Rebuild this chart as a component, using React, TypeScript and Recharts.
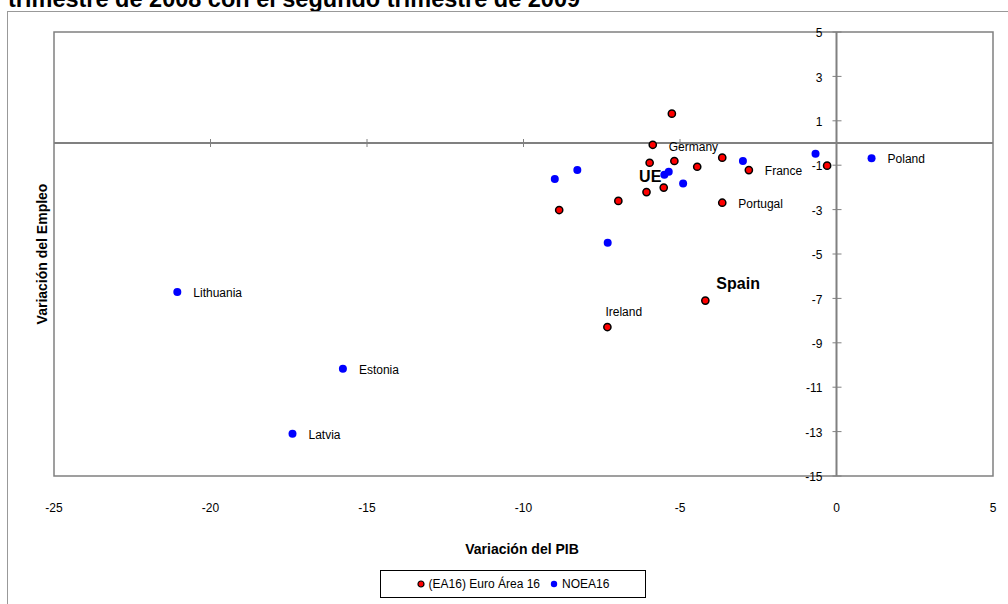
import React from "react";
import {
  ScatterChart,
  Scatter,
  XAxis,
  YAxis,
  ReferenceLine,
  ReferenceArea,
  ReferenceDot,
} from "recharts";

// ---- Data ----
const euroX = [-5.87, -5.97, -5.18, -4.45, -3.65, -2.8, -6.07, -5.52, -6.97, -8.86, -3.65, -5.26, -0.3, -4.19, -7.32];
const euroY = [-0.08, -0.89, -0.81, -1.07, -0.66, -1.22, -2.21, -2.01, -2.61, -3.02, -2.69, 1.32, -1.02, -7.1, -8.29];
const euroNames = ["Germany", "", "", "", "", "France", "", "", "", "", "Portugal", "", "", "Spain", "Ireland"];

const nonX = [-8.28, -9.0, -5.36, -5.5, -4.9, -2.99, -7.31, -0.67, 1.12, -21.06, -15.77, -17.38];
const nonY = [-1.22, -1.62, -1.29, -1.43, -1.82, -0.81, -4.49, -0.48, -0.69, -6.71, -10.17, -13.1];
const nonNames = ["", "", "", "UE", "", "", "", "", "Poland", "Lithuania", "Estonia", "Latvia"];

const seriesNames = ["(EA16) Euro Área 16", "NOEA16"];
const xTicks = [-25, -20, -15, -10, -5, 0, 5];
const xInnerTicks = [-20, -15, -10, -5];
const yTicks = [5, 3, 1, -1, -3, -5, -7, -9, -11, -13, -15];

const title = "trimestre de 2008 con el segundo trimestre de 2009";
const xTitle = "Variación del PIB";
const yTitle = "Variación del Empleo";

const euroData = euroX.map((x, i) => ({ x, y: euroY[i], name: euroNames[i] }));
const nonData = nonX.map((x, i) => ({ x, y: nonY[i], name: nonNames[i] }));

// ---- Label styling (placement relative to the point) ----
type LS = { dx: number; dy: number; anchor?: "start" | "end"; bold?: boolean };
const labelStyle: Record<string, LS> = {
  Germany: { dx: 16, dy: 6 },
  Ireland: { dx: -2, dy: -11 },
  Spain: { dx: 11, dy: -12, bold: true },
  UE: { dx: -3, dy: 7, anchor: "end", bold: true },
};
const defaultLS: LS = { dx: 16, dy: 5 };

const FONT = 'Arial, "Liberation Sans", sans-serif';

function renderLabel(cx: number, cy: number, name: string) {
  if (!name) return null;
  const s = labelStyle[name] || defaultLS;
  return (
    <text
      x={cx + s.dx}
      y={cy + s.dy}
      textAnchor={s.anchor || "start"}
      fontSize={s.bold ? 16 : 12}
      fontWeight={s.bold ? "bold" : "normal"}
      fontFamily={FONT}
      fill="#000"
    >
      {name}
    </text>
  );
}

const EuroShape = (p: any) => (
  <g>
    <circle cx={p.cx} cy={p.cy} r={3.6} fill="#FF0000" stroke="#000" strokeWidth={1.5} />
    {renderLabel(p.cx, p.cy, p.payload?.name)}
  </g>
);

const NonShape = (p: any) => (
  <g>
    <circle cx={p.cx} cy={p.cy} r={4} fill="#0000FF" />
    {renderLabel(p.cx, p.cy, p.payload?.name)}
  </g>
);

export default function App() {
  return (
    <div
      style={{
        position: "absolute",
        left: 0,
        top: 0,
        width: 1008,
        height: 604,
        overflow: "hidden",
        background: "#fff",
        fontFamily: FONT,
      }}
    >
      {/* title (cut at the top, as in the original) */}
      <div
        style={{
          position: "absolute",
          left: 8,
          top: -11.8,
          fontSize: 23.5,
          lineHeight: "23.5px",
          fontWeight: "bold",
          whiteSpace: "nowrap",
          color: "#000",
        }}
      >
        {title}
      </div>
      {/* chart area frame */}
      <div
        style={{
          position: "absolute",
          left: 7,
          top: 11,
          width: 1100,
          height: 700,
          borderLeft: "1px solid #999",
          borderTop: "1px solid #999",
        }}
      />
      <div style={{ position: "absolute", left: 0, top: 0 }}>
        <ScatterChart
          width={1008}
          height={604}
          margin={{ top: 32, right: 15, left: 54, bottom: 88 }}
        >
          <XAxis
            type="number"
            dataKey="x"
            domain={[-25, 5]}
            ticks={xTicks}
            interval={0}
            axisLine={false}
            tickLine={false}
            tickMargin={21}
            height={40}
            tick={{ fontSize: 12, fill: "#000", fontFamily: FONT }}
            allowDataOverflow
          />
          <YAxis type="number" dataKey="y" domain={[-15, 5]} hide allowDataOverflow />
          <ReferenceArea
            x1={-25}
            x2={5}
            y1={-15}
            y2={5}
            fill="none"
            fillOpacity={0}
            stroke="#808080"
            strokeWidth={1.5}
          />
          <ReferenceLine x={0} stroke="#808080" strokeWidth={2} />
          <ReferenceLine y={0} stroke="#808080" strokeWidth={2} />
          {yTicks.map((v) => (
            <ReferenceDot
              key={"yt" + v}
              x={0}
              y={v}
              r={0}
              shape={(p: any) => (
                <g>
                  <line x1={p.cx - 4} x2={p.cx + 5} y1={p.cy} y2={p.cy} stroke="#808080" strokeWidth={1} />
                  <text
                    x={p.cx - 14}
                    y={p.cy + 1}
                    dy="0.35em"
                    textAnchor="end"
                    fontSize={12}
                    fontFamily={FONT}
                    fill="#000"
                  >
                    {v}
                  </text>
                </g>
              )}
            />
          ))}
          {xInnerTicks.map((v) => (
            <ReferenceDot
              key={"xt" + v}
              x={v}
              y={0}
              r={0}
              shape={(p: any) => (
                <line x1={p.cx} x2={p.cx} y1={p.cy - 4} y2={p.cy + 4} stroke="#808080" strokeWidth={1} />
              )}
            />
          ))}
          <Scatter
            name={seriesNames[0]}
            data={euroData}
            fill="#FF0000"
            shape={EuroShape}
            isAnimationActive={false}
          />
          <Scatter
            name={seriesNames[1]}
            data={nonData}
            fill="#0000FF"
            shape={NonShape}
            isAnimationActive={false}
          />
        </ScatterChart>
      </div>
      {/* axis titles */}
      <div
        style={{
          position: "absolute",
          left: 522,
          top: 549,
          transform: "translate(-50%, -50%)",
          fontSize: 14,
          fontWeight: "bold",
          whiteSpace: "nowrap",
        }}
      >
        {xTitle}
      </div>
      <div
        style={{
          position: "absolute",
          left: 41.5,
          top: 254,
          transform: "translate(-50%, -50%) rotate(-90deg)",
          fontSize: 14,
          fontWeight: "bold",
          whiteSpace: "nowrap",
        }}
      >
        {yTitle}
      </div>
      {/* legend */}
      <div
        style={{
          position: "absolute",
          left: 380,
          top: 570,
          width: 264,
          height: 26,
          border: "1px solid #000",
          display: "flex",
          alignItems: "center",
          justifyContent: "center",
          gap: 10,
          fontSize: 12,
          background: "#fff",
        }}
      >
        <span style={{ display: "flex", alignItems: "center", gap: 4 }}>
          <svg width={8} height={8}>
            <circle cx={4} cy={4} r={3} fill="#FF0000" stroke="#000" strokeWidth={1.2} />
          </svg>
          {seriesNames[0]}
        </span>
        <span style={{ display: "flex", alignItems: "center", gap: 4 }}>
          <svg width={8} height={8}>
            <circle cx={4} cy={4} r={3.2} fill="#0000FF" />
          </svg>
          {seriesNames[1]}
        </span>
      </div>
    </div>
  );
}
